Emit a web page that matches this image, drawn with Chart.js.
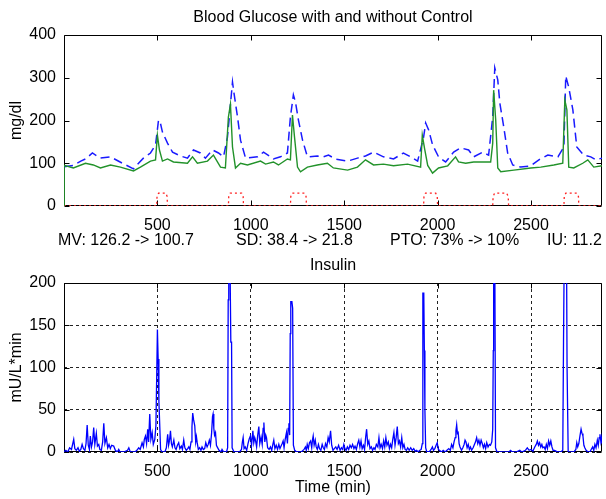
<!DOCTYPE html>
<html>
<head>
<meta charset="utf-8">
<script src="https://cdn.jsdelivr.net/npm/chart.js@4.4.1/dist/chart.umd.min.js"></script>
<style>
  body { margin: 0; background: #fff; width: 606px; height: 499px; position: relative; overflow: hidden;
         font-family: "Liberation Sans", Arial, sans-serif; }
  canvas { position: absolute; left: 0; }
  .txt { position: absolute; font-size: 16px; line-height: 18px; color: #000; white-space: nowrap; }
</style>
</head>
<body>
<canvas id="glucose" width="606" height="232" style="top:0"></canvas>
<canvas id="insulin" width="606" height="267" style="top:232px"></canvas>
<div class="txt" style="left:0;width:666px;text-align:center;top:8px">Blood Glucose with and without Control</div>
<div id="stats"></div>
<div class="txt" style="left:0;width:666px;text-align:center;top:256px">Insulin</div>
<script>
// glucose without control (blue dashed)
const openTime = [0, 50, 90, 115, 152, 195, 249, 313, 372, 425, 463, 490, 506, 516, 527, 554, 581, 623, 661, 693,
  730, 757, 795, 827, 854, 875, 902, 910, 929, 945, 972, 1036, 1068, 1105, 1121, 1159, 1196, 1212, 1228, 1239,
  1255, 1277, 1303, 1356, 1389, 1416, 1453, 1518, 1571, 1614, 1657, 1710, 1764, 1817, 1855, 1893, 1925, 1936,
  1952, 1973, 2005, 2043, 2086, 2123, 2166, 2193, 2241, 2273, 2295, 2306, 2322, 2333, 2354, 2375, 2402, 2445,
  2499, 2542, 2590, 2644, 2676, 2686, 2702, 2724, 2745, 2782, 2820, 2847, 2880];
const openBG = [92, 95, 105, 110, 124, 112, 115, 100, 87, 112, 124, 143, 201, 194, 173, 147, 126, 117, 112, 131,
  124, 112, 131, 124, 115, 161, 290, 264, 208, 154, 112, 115, 126, 115, 110, 115, 124, 208, 260, 243,
  201, 154, 115, 117, 115, 119, 110, 105, 112, 117, 126, 115, 110, 124, 115, 105, 161, 194,
  178, 143, 115, 103, 126, 136, 131, 115, 126, 119, 208, 323, 295, 241, 185, 124, 96, 91,
  94, 108, 119, 115, 138, 304, 278, 225, 138, 119, 115, 108, 112];

// glucose with control (green)
const ctrlTime = [0, 1, 50, 115, 157, 195, 249, 302, 372, 409, 463, 490, 500, 511, 527, 554, 586, 661, 688, 714,
  768, 800, 838, 864, 880, 891, 902, 918, 945, 982, 1052, 1079, 1121, 1148, 1196, 1212, 1223, 1234, 1250, 1266,
  1303, 1356, 1410, 1442, 1518, 1571, 1614, 1657, 1710, 1764, 1839, 1909, 1918, 1930, 1947, 1973, 2005, 2054,
  2096, 2112, 2150, 2193, 2241, 2284, 2295, 2300, 2311, 2322, 2338, 2408, 2499, 2552, 2622, 2670, 2681, 2692,
  2702, 2729, 2777, 2804, 2836, 2880];
const ctrlBG = [0, 95, 89, 100, 96, 89, 96, 91, 82, 91, 105, 108, 166, 131, 105, 110, 103, 100, 115, 100,
  105, 119, 91, 89, 208, 238, 138, 89, 100, 96, 105, 98, 103, 96, 110, 108, 213, 161, 91, 80,
  91, 96, 100, 89, 84, 91, 108, 96, 98, 94, 98, 91, 166, 135, 95, 77, 89, 94,
  115, 103, 100, 103, 103, 103, 147, 271, 201, 89, 80, 84, 89, 91, 96, 100, 248, 225,
  91, 89, 100, 108, 91, 94];

// meals (red dotted)
const mealTime = [0, 496, 498, 506, 546, 552, 554, 880, 882, 890, 951, 959, 961, 1212, 1214, 1222, 1288, 1296, 1298,
  1925, 1927, 1935, 1990, 1998, 2000, 2295, 2297, 2305, 2370, 2378, 2380, 2676, 2678, 2686, 2746, 2754, 2756, 2880];
const mealCarb = [0, 0, 22, 30, 30, 22, 0, 0, 22, 30, 30, 22, 0, 0, 22, 30, 30, 22, 0,
  0, 22, 30, 30, 22, 0, 0, 22, 30, 30, 22, 0, 0, 22, 30, 30, 22, 0, 0];

// insulin infusion
const insTime = [0, 10, 20, 30, 40, 52, 58, 66, 75, 82, 90, 97, 104, 112, 118, 124, 130, 136, 141, 147, 153, 159, 165,
  173, 179, 186, 192, 200, 207, 213, 219, 227, 234, 241, 248, 255, 266, 275, 285, 293, 300, 320, 340, 347, 355, 380,
  390, 400, 408, 418, 425, 430, 436, 442, 448, 453, 459, 465, 472, 478, 486, 492, 497, 500, 504, 508, 512, 517, 525,
  540, 548, 555, 560, 565, 570, 575, 580, 588, 594, 600, 607, 614, 620, 628, 634, 641, 647, 655, 662, 668, 674, 680,
  685, 689, 694, 700, 705, 709, 713, 719, 726, 733, 739, 746, 753, 759, 766, 772, 778, 784, 790, 795, 798, 802, 806,
  811, 816, 820, 830, 840, 846, 855, 870, 876, 879, 882, 888, 893, 897, 900, 910, 940, 950, 955, 959, 964, 970, 978,
  985, 991, 998, 1004, 1011, 1016, 1021, 1025, 1031, 1037, 1043, 1048, 1055, 1061, 1066, 1070, 1075, 1080, 1084,
  1090, 1098, 1105, 1112, 1118, 1123, 1129, 1136, 1143, 1150, 1156, 1162, 1168, 1173, 1178, 1184, 1191, 1196, 1200,
  1204, 1208, 1211, 1214, 1220, 1224, 1228, 1235, 1245, 1270, 1285, 1292, 1297, 1302, 1308, 1314, 1320, 1326, 1330,
  1334, 1339, 1345, 1350, 1356, 1362, 1368, 1375, 1382, 1388, 1394, 1400, 1407, 1414, 1420, 1427, 1433, 1440, 1447,
  1455, 1462, 1470, 1478, 1485, 1492, 1498, 1504, 1510, 1517, 1524, 1531, 1538, 1545, 1552, 1558, 1565, 1572, 1578,
  1584, 1590, 1596, 1603, 1609, 1615, 1620, 1626, 1632, 1638, 1645, 1652, 1659, 1665, 1672, 1680, 1686, 1692, 1698,
  1705, 1711, 1717, 1723, 1729, 1736, 1742, 1748, 1754, 1760, 1766, 1772, 1778, 1784, 1790, 1796, 1802, 1808, 1814,
  1820, 1826, 1833, 1840, 1848, 1856, 1864, 1872, 1880, 1888, 1895, 1905, 1912, 1918, 1921, 1926, 1929, 1932, 1936,
  1942, 1955, 1965, 1972, 1978, 1985, 1992, 1998, 2004, 2010, 2020, 2030, 2040, 2050, 2060, 2068, 2075, 2082, 2088,
  2094, 2098, 2102, 2106, 2110, 2115, 2120, 2128, 2135, 2142, 2147, 2152, 2158, 2164, 2170, 2176, 2182, 2190, 2197,
  2203, 2209, 2215, 2221, 2227, 2233, 2239, 2245, 2251, 2257, 2263, 2270, 2277, 2283, 2290, 2295, 2298, 2300, 2306,
  2310, 2318, 2350, 2380, 2391, 2398, 2420, 2440, 2450, 2470, 2480, 2490, 2500, 2510, 2520, 2528, 2534, 2540, 2546,
  2552, 2558, 2563, 2570, 2576, 2582, 2588, 2594, 2600, 2606, 2612, 2618, 2626, 2634, 2645, 2660, 2670, 2674, 2678,
  2690, 2693, 2696, 2699, 2715, 2730, 2740, 2745, 2750, 2756, 2762, 2768, 2773, 2778, 2783, 2788, 2795, 2805, 2815,
  2822, 2830, 2836, 2842, 2848, 2855, 2860, 2865, 2869, 2874, 2878, 2880];
const insRate = [0, 2, 0, 5, 3, 15, 4, 2, 5, 1, 3, 9, 4, 2, 10, 32, 8, 3, 19, 6, 12, 29, 9,
  22, 7, 9, 3, 2, 12, 34, 10, 17, 5, 9, 4, 8, 7, 2, 0, 3, 0, 0, 2, 5, 0, 0,
  2, 5, 3, 11, 6, 15, 19, 10, 27, 12, 45, 15, 23, 9, 15, 31, 100, 145, 110, 60, 35, 3, 0,
  0, 5, 21, 8, 14, 25, 10, 6, 14, 5, 3, 8, 11, 4, 7, 3, 14, 5, 2, 4, 6, 3, 12,
  30, 46, 38, 31, 12, 18, 11, 3, 5, 2, 6, 3, 4, 11, 6, 9, 14, 8, 22, 42, 45, 28, 20,
  23, 8, 6, 2, 0, 3, 0, 0, 5, 180, 240, 240, 130, 130, 5, 0, 0, 3, 12, 17, 4, 6, 2,
  10, 15, 19, 8, 25, 11, 17, 14, 6, 20, 30, 10, 18, 9, 28, 35, 12, 20, 17,
  5, 3, 6, 2, 9, 14, 4, 8, 3, 9, 4, 7, 10, 13, 5, 15, 23, 10, 28,
  34, 20, 140, 178, 178, 170, 8, 2, 0, 0, 3, 6, 2, 9, 4, 11, 13, 5, 14,
  19, 8, 14, 6, 3, 9, 4, 2, 9, 5, 3, 10, 6, 17, 12, 25, 8, 2, 4,
  6, 3, 8, 2, 5, 3, 9, 4, 2, 6, 3, 8, 5, 9, 4, 7, 3, 10, 14,
  6, 13, 4, 8, 3, 18, 27, 9, 13, 4, 6, 2, 5, 3, 9, 6, 17, 5, 9,
  4, 13, 6, 17, 8, 12, 4, 9, 5, 15, 23, 8, 17, 30, 10, 13, 6, 17, 5,
  9, 3, 2, 5, 2, 5, 2, 4, 1, 2, 0, 2, 3, 10, 188, 188, 120, 50, 5,
  0, 0, 3, 6, 2, 4, 8, 11, 3, 2, 0, 2, 0, 2, 4, 2, 9, 5, 12,
  17, 25, 32, 22, 23, 10, 6, 2, 5, 9, 14, 12, 5, 9, 3, 6, 2, 5, 9,
  12, 17, 10, 14, 8, 14, 10, 5, 9, 4, 11, 6, 9, 8, 12, 27, 120, 240, 240,
  5, 0, 0, 0, 2, 0, 0, 2, 0, 2, 5, 2, 3, 1, 6, 9, 13, 8, 11,
  6, 9, 5, 6, 3, 9, 4, 13, 8, 13, 6, 2, 2, 1, 0, 0, 2, 130, 240,
  240, 100, 100, 0, 0, 0, 3, 11, 6, 10, 19, 27, 22, 19, 8, 5, 2, 0, 0,
  3, 6, 2, 9, 5, 14, 8, 17, 21, 12, 17, 10];

const timeTicks = [500, 1000, 1500, 2000, 2500];
const glucoseTicks = [0, 100, 200, 300, 400];
const insulinTicks = [0, 50, 100, 150, 200];
const statTexts = ['MV: 126.2 -> 100.7', 'SD: 38.4 -> 21.8', 'PTO: 73% -> 10%', 'IU: 11.2'];
const statLeft = [58, 236, 390, 547];

const fontFam = '"Liberation Sans", Arial, sans-serif';
const font = { family: fontFam, size: 16 };

function pts(xs, ys) {
  return xs.map((x, i) => ({ x: x, y: ys[i] }));
}
function setTicks(list) {
  return s => { s.ticks = list.map(v => ({ value: v })); };
}

// stats line under the top plot
const stats = document.getElementById('stats');
statTexts.forEach((t, i) => {
  const d = document.createElement('div');
  d.className = 'txt';
  d.style.left = statLeft[i] + 'px';
  d.style.top = '231px';
  d.textContent = t;
  stats.appendChild(d);
});

// matlab style box with inward tick marks
const frame = {
  id: 'frame',
  beforeDatasetsDraw(chart) {
    const { ctx, chartArea: a, scales: { x, y } } = chart;
    const L = Math.round(a.left) + 0.5, R = Math.round(a.right) - 0.5;
    const T = Math.round(a.top) + 0.5, B = Math.round(a.bottom) - 0.5;
    ctx.save();
    ctx.strokeStyle = '#000';
    ctx.lineWidth = 1;
    ctx.setLineDash([]);
    ctx.beginPath();
    x.ticks.forEach(t => {
      const px = Math.round(x.getPixelForValue(t.value)) + 0.5;
      ctx.moveTo(px, T); ctx.lineTo(px, T + 5);
      ctx.moveTo(px, B); ctx.lineTo(px, B - 5);
    });
    y.ticks.forEach(t => {
      const py = Math.round(y.getPixelForValue(t.value)) + 0.5;
      ctx.moveTo(L, py); ctx.lineTo(L + 5, py);
      ctx.moveTo(R, py); ctx.lineTo(R - 5, py);
    });
    ctx.rect(L, T, R - L, B - T);
    ctx.stroke();
    ctx.restore();
  }
};

function axes(ymax, yTicks, yTitle, xTitle, gridOn, xH, yW) {
  const grid = gridOn
    ? { drawOnChartArea: true, drawTicks: false, color: '#222', lineWidth: 1 }
    : { display: false, drawTicks: false };
  const border = gridOn ? { display: false, dash: [3, 3] } : { display: false };
  return {
    x: { type: 'linear', min: 0, max: 2880, position: 'bottom', border: border, grid: grid,
      afterBuildTicks: setTicks(timeTicks),
      ticks: { color: '#000', font: font, padding: 10, maxRotation: 0, autoSkip: false, callback: v => String(v) },
      title: { display: !!xTitle, text: xTitle, color: '#000', font: font, padding: { top: 0, bottom: 2 } },
      afterFit: s => { s.height = xH; } },
    y: { type: 'linear', min: 0, max: ymax, position: 'left', border: border, grid: grid,
      afterBuildTicks: setTicks(yTicks),
      ticks: { color: '#000', font: font, padding: 8, callback: v => String(v) },
      title: { display: true, text: yTitle, color: '#000', font: font, padding: { top: 7, bottom: 0 } },
      afterFit: s => { s.width = yW; } }
  };
}

const common = {
  responsive: false,
  animation: false,
  events: [],
  plugins: { legend: { display: false }, tooltip: { enabled: false } },
  elements: { point: { radius: 0 }, line: { tension: 0 } }
};

new Chart(document.getElementById('glucose'), {
  type: 'line',
  data: {
    datasets: [
      { data: pts(ctrlTime, ctrlBG), borderColor: '#22922a', borderWidth: 1.4 },
      { data: pts(openTime, openBG), borderColor: '#1a1aff', borderWidth: 1.5, borderDash: [9, 5] },
      { data: pts(mealTime, mealCarb), borderColor: '#ff2020', borderWidth: 1.3, borderDash: [2, 3] }
    ]
  },
  options: Object.assign({}, common, {
    layout: { padding: { top: 35, right: 4, bottom: 0, left: 0 } },
    scales: axes(400, glucoseTicks, 'mg/dl', '', false, 26, 64)
  }),
  plugins: [frame]
});

new Chart(document.getElementById('insulin'), {
  type: 'line',
  data: {
    datasets: [
      { data: pts(insTime, insRate), borderColor: '#0000ff', borderWidth: 1.3 }
    ]
  },
  options: Object.assign({}, common, {
    layout: { padding: { top: 51, right: 4, bottom: 0, left: 0 } },
    scales: axes(200, insulinTicks, 'mU/L*min', 'Time (min)', true, 47, 64)
  }),
  plugins: [frame]
});
</script>
</body>
</html>
